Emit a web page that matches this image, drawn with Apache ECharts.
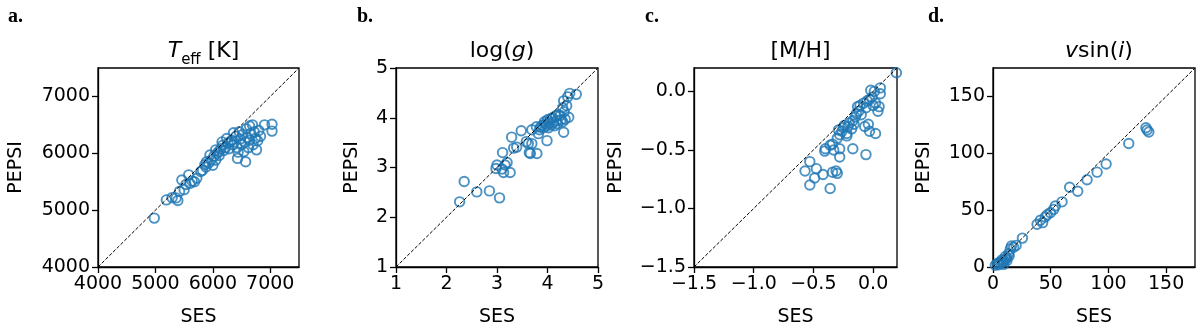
<!DOCTYPE html>
<html>
<head>
<meta charset="utf-8">
<script src="https://cdn.jsdelivr.net/npm/echarts@6/dist/echarts.min.js"></script>
<style>
  html, body { margin: 0; padding: 0; background: #fff; }
  #chart { width: 1200px; height: 332px; }
</style>
</head>
<body>
<div id="chart"></div>
<script>
// a. Teff [K]
const teffSES = [4980, 5190, 5290, 5360, 5390, 5420, 5460, 5500, 5530, 5580, 5600, 5640, 5680, 5720, 5790, 5820, 5860, 5880, 5930, 5950,
  5970, 6000, 6020, 6050, 6080, 6100, 6110, 6140, 6170, 6190, 6220, 6240, 6260, 6280, 6300, 6330, 6350, 6370, 6400, 6420,
  6430, 6440, 6460, 6480, 6500, 6520, 6540, 6560, 6570, 6580, 6600, 6620, 6640, 6660, 6690, 6700, 6720, 6740, 6760, 6780,
  6800, 6830, 6900, 7030, 7030, 6640, 6360, 6160, 6050, 5890]
const teffPEPSI = [4860, 5180, 5220, 5215, 5170, 5330, 5530, 5360, 5450, 5620, 5470, 5510, 5500, 5560, 5680, 5700, 5800, 5760, 5830, 5970,
  5880, 5790, 5950, 5880, 6000, 6030, 5960, 6080, 6140, 6050, 6100, 6260, 6180, 6080, 6200, 6230, 6150, 6200, 6300, 6100,
  5910, 6020, 6380, 6250, 6150, 6330, 6030, 6200, 5850, 6430, 6280, 6100, 6230, 6350, 6500, 6150, 6380, 6260, 6060, 6220,
  6400, 6300, 6500, 6510, 6390, 6480, 6360, 6200, 6060, 5850]

// b. log(g)
const loggSES = [2.26, 2.35, 2.60, 2.85, 3.05, 2.98, 3.00, 3.10, 3.13, 3.16, 3.11, 3.26, 3.29, 3.33, 3.39, 3.48, 3.62, 3.64, 3.66, 3.69,
  3.69, 3.79, 3.82, 3.78, 3.84, 3.86, 3.90, 3.92, 3.94, 3.96, 3.99, 3.99, 4.00, 4.02, 4.04, 4.06, 4.08, 4.10, 4.12, 4.14,
  4.16, 4.18, 4.20, 4.22, 4.25, 4.27, 4.30, 4.32, 4.32, 4.33, 4.35, 4.38, 4.40, 4.42, 4.44, 4.57, 4.30, 3.58, 3.20]
const loggPEPSI = [2.31, 2.72, 2.51, 2.53, 2.39, 2.98, 3.05, 2.97, 2.90, 3.05, 3.30, 2.90, 3.61, 3.39, 3.41, 3.74, 3.48, 3.30, 3.28, 3.48,
  3.76, 3.28, 3.68, 3.82, 3.76, 3.81, 3.85, 3.80, 3.92, 3.88, 3.54, 3.84, 3.96, 3.80, 3.90, 3.98, 3.86, 4.00, 3.91, 3.84,
  4.04, 3.94, 3.88, 4.06, 4.04, 3.96, 3.92, 3.71, 4.34, 4.12, 3.97, 4.24, 4.42, 4.01, 4.49, 4.47, 4.20, 3.52, 3.10]

// c. [M/H]
const mhSES = [-0.53, -0.57, -0.53, -0.475, -0.49, -0.42, -0.36, -0.34, -0.30, -0.31, -0.40, -0.405, -0.36, -0.34, -0.33, -0.28, -0.28, -0.17, -0.06, -0.30,
  -0.29, -0.28, -0.26, -0.25, -0.24, -0.22, -0.21, -0.20, -0.18, -0.17, -0.16, -0.15, -0.14, -0.13, -0.12, -0.11, -0.10, -0.08, -0.06, -0.05,
  -0.03, -0.02, -0.01, 0.00, 0.01, 0.02, 0.04, 0.05, 0.06, 0.06, -0.04, -0.03, 0.02, -0.07, 0.195, -0.22]
const mhPEPSI = [-0.60, -0.68, -0.80, -0.66, -0.74, -0.71, -0.83, -0.69, -0.70, -0.68, -0.49, -0.51, -0.46, -0.45, -0.50, -0.56, -0.49, -0.49, -0.54, -0.40,
  -0.33, -0.37, -0.34, -0.31, -0.29, -0.36, -0.30, -0.27, -0.32, -0.25, -0.28, -0.22, -0.19, -0.13, -0.17, -0.12, -0.20, -0.10, -0.14, -0.08,
  -0.07, 0.01, -0.05, -0.12, 0.00, -0.10, -0.17, -0.13, 0.03, -0.02, -0.28, -0.34, -0.36, -0.30, 0.16, -0.38]

// d. vsin(i)
const vsiniSES = [2, 3.5, 4.9, 5, 6.4, 7.8, 8, 9.2, 9.2, 10.7, 11, 12.1, 12, 13.5, 14, 15, 16, 17.9, 20, 25.5,
  38.2, 41, 43, 45.3, 47, 49.7, 52.6, 54, 59.8, 66.4, 73.4, 81.5, 90.2, 98, 117.6, 132.5, 133.5, 135]
const vsiniPEPSI = [1.5, 2.9, 3.5, 2, 4.3, 6.3, 4, 2.3, 5.8, 9.3, 7, 5.8, 8, 11.6, 10, 15.9, 18.5, 17.4, 19, 25.4,
  37.6, 41.1, 39, 44, 46, 47.8, 50.7, 53.6, 57.3, 70.1, 66.6, 76.7, 83.4, 90.6, 108.6, 122.5, 120.5, 118.7]

// axis limits and ticks
const teffRange = [4000, 7500]
const teffTicks = [4000, 5000, 6000, 7000]
const loggRange = [1, 5]
const loggTicks = [1, 2, 3, 4, 5]
const mhRange = [-1.5, 0.2]
const mhTicks = [-1.5, -1.0, -0.5, 0.0]
const vsiniRange = [0, 175]
const vsiniTicks = [0, 50, 100, 150]

const font = 'DejaVu Sans'
const blue = '#1f77b4'

const zip = (a, b) => a.map((v, i) => [v, b[i]])
const mhFmt = v => (v < 0 ? '\u2212' : '') + Math.abs(v).toFixed(1)

const panels = [
  { range: teffRange, ticks: teffTicks, x: teffSES, y: teffPEPSI, fmt: null, grid: { left: 98, width: 201 }, yGap: 72 },
  { range: loggRange, ticks: loggTicks, x: loggSES, y: loggPEPSI, fmt: null, grid: { left: 396, width: 202 }, yGap: 34 },
  { range: mhRange, ticks: mhTicks, x: mhSES, y: mhPEPSI, fmt: mhFmt, grid: { left: 694, width: 203 }, yGap: 68 },
  { range: vsiniRange, ticks: vsiniTicks, x: vsiniSES, y: vsiniPEPSI, fmt: null, grid: { left: 993, width: 202 }, yGap: 59 }
]

function axis (p, i, isY) {
  return {
    type: 'value',
    gridIndex: i,
    min: p.range[0],
    max: p.range[1],
    name: isY ? 'PEPSI' : 'SES',
    nameLocation: 'middle',
    nameGap: isY ? p.yGap : 41,
    nameTextStyle: { color: '#000', fontSize: 19, fontFamily: font },
    axisLine: { show: true, onZero: false, lineStyle: { color: '#000', width: 1.3 } },
    axisTick: { show: true, customValues: p.ticks, length: 6, lineStyle: { color: '#000', width: 1.3 } },
    axisLabel: {
      customValues: p.ticks,
      formatter: p.fmt || (v => String(v)),
      color: '#000',
      fontSize: 19,
      fontFamily: font,
      margin: 8
    },
    splitLine: { show: false }
  }
}

const titleRich = {
  it: { fontStyle: 'italic', fontSize: 22, fontFamily: font, color: '#000' },
  n: { fontSize: 22, fontFamily: font, color: '#000' },
  sub: { fontSize: 15, fontFamily: font, color: '#000', verticalAlign: 'bottom', padding: [0, 0, -6, 0] }
}
const titles = ['{it|T}{sub|eff}{n| [K]}', '{n|log(}{it|g}{n|)}', '{n|[M/H]}', '{it|v}{n|sin(}{it|i}{n|)}']
const letters = [['a.', 3], ['b.', 352], ['c.', 640], ['d.', 923]]

const dom = echarts.init(document.getElementById('chart'), null, { renderer: 'canvas' })

const option = {
  animation: false,
  backgroundColor: '#fff',
  title: [
    ...panels.map((p, i) => ({
      text: titles[i],
      left: p.grid.left + p.grid.width / 2,
      top: 35,
      textAlign: 'center',
      textStyle: { fontSize: 22, fontFamily: font, fontWeight: 'normal', color: '#000', rich: titleRich }
    })),
    ...letters.map(l => ({
      text: l[0],
      left: l[1],
      top: 2,
      textStyle: { fontSize: 20, fontFamily: 'Liberation Serif', fontWeight: 'bold', color: '#000' }
    }))
  ],
  grid: panels.map(p => ({
    left: p.grid.left,
    top: 68,
    width: p.grid.width,
    height: 202,
    show: true,
    borderColor: '#000',
    borderWidth: 1.3,
    backgroundColor: 'transparent'
  })),
  xAxis: panels.map((p, i) => axis(p, i, false)),
  yAxis: panels.map((p, i) => axis(p, i, true)),
  series: [
    ...panels.map((p, i) => ({
      type: 'scatter',
      xAxisIndex: i,
      yAxisIndex: i,
      data: zip(p.x, p.y),
      symbol: 'circle',
      symbolSize: 9.5,
      itemStyle: { color: 'rgba(0,0,0,0)', borderColor: blue, borderWidth: 1.9 },
      z: 2
    })),
    ...panels.map((p, i) => ({
      type: 'line',
      xAxisIndex: i,
      yAxisIndex: i,
      data: [[p.range[0], p.range[0]], [p.range[1], p.range[1]]],
      symbol: 'none',
      lineStyle: { color: '#000', width: 1, type: [3.5, 1.8] },
      z: 3
    }))
  ]
}

dom.setOption(option)
window.addEventListener('resize', () => dom.resize())
</script>
</body>
</html>
